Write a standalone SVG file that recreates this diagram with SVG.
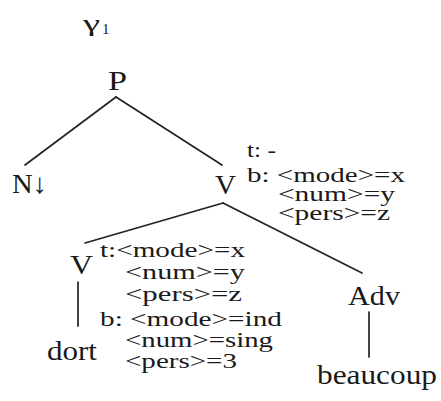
<svg xmlns="http://www.w3.org/2000/svg" width="441" height="401" viewBox="0 0 441 401">
<style>
.lab{font-family:"Liberation Serif","Times New Roman",serif;font-size:28px;fill:#1a1a1a}
.ft{font-family:"Liberation Serif","Times New Roman",serif;font-size:22px;fill:#1a1a1a}
.edge{stroke:#222;stroke-width:1.7;fill:none;stroke-linecap:round}
</style>
<rect width="441" height="401" fill="#ffffff"/>
<g id="title">
<text class="lab" x="83" y="31" style="font-size:24px" textLength="17" lengthAdjust="spacingAndGlyphs">γ</text>
<text class="lab" x="102" y="34" style="font-size:15px">1</text>
</g>
<g id="connectors">
<line class="edge" x1="116" y1="97" x2="25" y2="165"/>
<line class="edge" x1="116" y1="97" x2="222" y2="165"/>
<line class="edge" x1="223" y1="203" x2="85" y2="243"/>
<line class="edge" x1="223" y1="203" x2="362" y2="273"/>
<line class="edge" x1="78" y1="282" x2="78" y2="326"/>
<line class="edge" x1="369" y1="312" x2="369" y2="357"/>
</g>
<g id="node-P">
<text class="lab" x="108" y="90" textLength="19" lengthAdjust="spacingAndGlyphs">P</text>
</g>
<g id="node-N">
<text class="lab" x="12" y="193" textLength="35" lengthAdjust="spacingAndGlyphs">N↓</text>
</g>
<g id="node-V-top">
<text class="lab" x="215" y="194" textLength="21" lengthAdjust="spacingAndGlyphs">V</text>
<text class="ft" x="247" y="157" textLength="29" lengthAdjust="spacingAndGlyphs">t: -</text>
<text class="ft" x="247" y="182" textLength="158" lengthAdjust="spacingAndGlyphs">b: &lt;mode&gt;=x</text>
<text class="ft" x="278" y="201" textLength="117" lengthAdjust="spacingAndGlyphs">&lt;num&gt;=y</text>
<text class="ft" x="278" y="220" textLength="112" lengthAdjust="spacingAndGlyphs">&lt;pers&gt;=z</text>
</g>
<g id="node-V-low">
<text class="lab" x="70" y="274" textLength="23" lengthAdjust="spacingAndGlyphs">V</text>
<text class="ft" x="100" y="257" textLength="145" lengthAdjust="spacingAndGlyphs">t:&lt;mode&gt;=x</text>
<text class="ft" x="125" y="279" textLength="120" lengthAdjust="spacingAndGlyphs">&lt;num&gt;=y</text>
<text class="ft" x="125" y="301" textLength="117" lengthAdjust="spacingAndGlyphs">&lt;pers&gt;=z</text>
<text class="ft" x="100" y="326" textLength="182" lengthAdjust="spacingAndGlyphs">b: &lt;mode&gt;=ind</text>
<text class="ft" x="125" y="347" textLength="148" lengthAdjust="spacingAndGlyphs">&lt;num&gt;=sing</text>
<text class="ft" x="125" y="368" textLength="112" lengthAdjust="spacingAndGlyphs">&lt;pers&gt;=3</text>
</g>
<g id="node-dort">
<text class="lab" x="47" y="360" textLength="50" lengthAdjust="spacingAndGlyphs">dort</text>
</g>
<g id="node-Adv">
<text class="lab" x="348" y="305" textLength="52" lengthAdjust="spacingAndGlyphs">Adv</text>
</g>
<g id="node-beaucoup">
<text class="lab" x="317" y="384" textLength="120" lengthAdjust="spacingAndGlyphs">beaucoup</text>
</g>
</svg>
